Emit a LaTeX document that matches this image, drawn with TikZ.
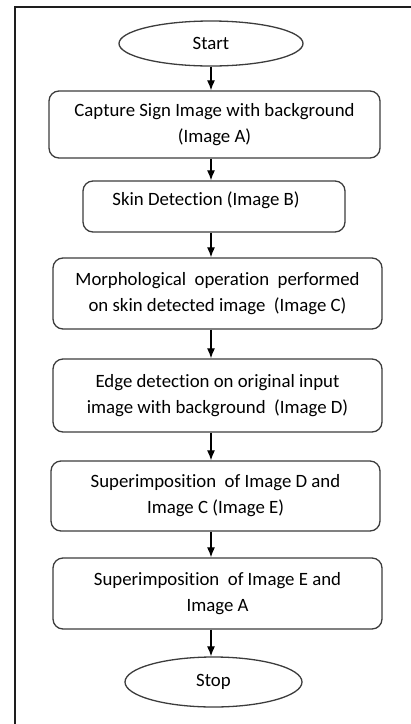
\documentclass[tikz,border=0pt]{standalone}
\usepackage{fontspec}
\setmainfont[Ligatures=NoCommon]{Carlito}
\usetikzlibrary{arrows.meta,shapes.geometric}
\definecolor{boxgray}{HTML}{3C3C3C}
\definecolor{framegray}{HTML}{1E1E1E}
\begin{document}
\begin{tikzpicture}[x=1pt,y=-1pt,
  lbl/.style={font=\fontsize{18.8}{26}\selectfont, text=black},
  box/.style={lbl, draw=boxgray, line width=1.3pt, rounded corners=10pt, align=center, inner sep=0pt},
  term/.style={lbl, ellipse, draw=boxgray, line width=1.3pt, inner sep=0pt},
  arr/.style={-{Latex[length=10pt,width=8pt]}, line width=1.2pt, black}]
\useasboundingbox (0,0) rectangle (411,724);
\draw[line width=2pt, framegray] (15,726) -- (15,7) -- (413,7);

\node[term, minimum width=184, minimum height=45] (start) at (211,43.5) {Start};
\node[box, minimum width=331, minimum height=67] (b1) at (214.5,124.5) {Capture Sign Image with background\\(Image A)};
\node[box, minimum width=262, minimum height=51] (b2) at (214,206.5) {};
\node[lbl] (b2t) at (206,200) {Skin Detection (Image B)};
\node[box, minimum width=329, minimum height=71] (b3) at (217.5,293.5) {Morphological\ \ operation\ \ performed\\on skin detected image\ \ (Image C)};
\node[box, minimum width=329, minimum height=73] (b4) at (217.5,395.5) {Edge detection on original input\\image with background\ \ (Image D)};
\node[box, minimum width=329, minimum height=70] (b5) at (215.5,496) {Superimposition\ \ of Image D and\\Image C (Image E)};
\node[box, minimum width=329, minimum height=71] (b6) at (217.5,593.5) {Superimposition\ \ of Image E and\\Image A};
\node[term, minimum width=177, minimum height=50] (stop) at (213.5,682) {Stop};

\draw[arr] (start.south) -- (start.south |- b1.north);
\draw[arr] (b1.south -| start) -- (b2.north -| start);
\draw[arr] (b2.south -| start) -- (b3.north -| start);
\draw[arr] (b3.south -| start) -- (b4.north -| start);
\draw[arr] (b4.south -| start) -- (b5.north -| start);
\draw[arr] (b5.south -| start) -- (b6.north -| start);
\draw[arr] (b6.south -| start) -- (stop.north -| start);
\end{tikzpicture}
\end{document}
